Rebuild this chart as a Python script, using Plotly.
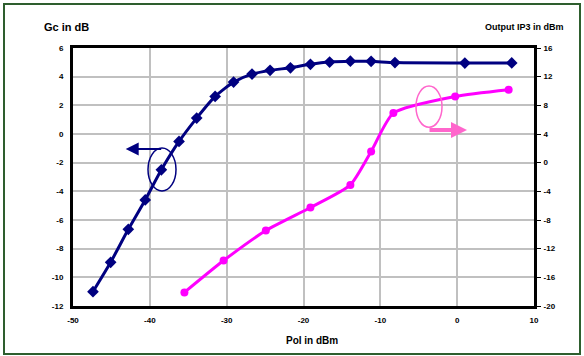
import plotly.graph_objects as go

# Gc (left axis)
gc_pol = [-47.4, -45.1, -42.8, -40.6, -38.5, -36.2, -33.9, -31.5, -29.1, -26.7,
          -24.35, -21.7, -19.1, -16.6, -13.9, -11.2, -8.1, 1.0, 7.1]
gc_db = [-11.0, -8.95, -6.65, -4.6, -2.5, -0.52, 1.11, 2.62, 3.62, 4.18,
         4.44, 4.62, 4.86, 5.02, 5.08, 5.07, 4.98, 4.95, 4.96]

# Output IP3 (right axis)
ip3_pol = [-35.5, -30.4, -24.9, -19.1, -13.9, -11.2, -8.3, -0.26, 6.7]
ip3_dbm = [-18.1, -13.66, -9.47, -6.26, -3.1, 1.56, 6.92, 9.24, 10.18]

x_ticks = [-50, -40, -30, -20, -10, 0, 10]
y_ticks = [-12, -10, -8, -6, -4, -2, 0, 2, 4, 6]
y2_ticks = [-20, -16, -12, -8, -4, 0, 4, 8, 12, 16]

FONT = "Liberation Sans, Arial, sans-serif"
NAVY = "#000080"
MAG = "#FF00FF"
PINK = "#FF66CC"

fig = go.Figure()
fig.add_trace(go.Scatter(x=gc_pol, y=gc_db, mode="lines+markers",
                         line=dict(color=NAVY, width=3, shape="spline", smoothing=0.6),
                         marker=dict(symbol="diamond", size=9, color=NAVY),
                         yaxis="y", showlegend=False))
fig.add_trace(go.Scatter(x=ip3_pol, y=ip3_dbm, mode="lines+markers",
                         line=dict(color=MAG, width=3, shape="spline", smoothing=0.6),
                         marker=dict(symbol="circle", size=8, color=MAG),
                         yaxis="y2", showlegend=False))

tickfont = dict(family=FONT, size=8, color="black", weight="bold")

fig.update_layout(
    width=584, height=356,
    margin=dict(l=73, r=50, t=48, b=50),
    paper_bgcolor="white", plot_bgcolor="white",
    xaxis=dict(range=[-50, 10], tickvals=x_ticks, ticktext=[str(v) for v in x_ticks],
               showgrid=True, gridcolor="#C0C0C0", gridwidth=2,
               showline=True, linecolor="black", linewidth=3, mirror=True,
               ticks="", tickfont=tickfont, ticklabelstandoff=4, zeroline=False),
    yaxis=dict(range=[-12, 6], tickvals=y_ticks, ticktext=[str(v) for v in y_ticks],
               showgrid=True, gridcolor="#C0C0C0", gridwidth=2,
               showline=True, linecolor="black", linewidth=3, mirror=True,
               ticks="", tickfont=tickfont, ticklabelstandoff=5, zeroline=False),
    yaxis2=dict(range=[-20, 16], tickvals=y2_ticks, ticktext=[str(v) for v in y2_ticks],
                overlaying="y", side="right", showgrid=False,
                showline=True, linecolor="black", linewidth=3,
                ticks="outside", ticklen=4, tickwidth=1, tickcolor="black",
                tickfont=tickfont, ticklabelstandoff=1, zeroline=False),
)

def px(xp):
    return (xp - 73) / 461.0

def py(yp):
    return (306 - yp) / 258.0

annots = [
    dict(text="<b>Gc in dB</b>", x=px(66.5), y=py(27), font=dict(family=FONT, size=11, color="black")),
    dict(text="<b>Output IP3 in dBm</b>", x=px(524.5), y=py(27), font=dict(family=FONT, size=9, color="black")),
    dict(text="<b>Pol in dBm</b>", x=px(312), y=py(340), font=dict(family=FONT, size=10, color="black")),
]
for a in annots:
    fig.add_annotation(xref="paper", yref="paper", showarrow=False,
                       xanchor="center", yanchor="middle", **a)

# arrows
fig.add_annotation(xref="paper", yref="paper", x=px(125.7), y=py(149), ax=37, ay=0,
                   text="", showarrow=True, arrowhead=2, arrowsize=1.3, arrowwidth=2,
                   arrowcolor=NAVY, standoff=0)
fig.add_annotation(xref="paper", yref="paper", x=px(467), y=py(130), ax=-39, ay=0,
                   text="", showarrow=True, arrowhead=2, arrowsize=0.8, arrowwidth=4,
                   arrowcolor=PINK, standoff=0)

# ellipses
fig.add_shape(type="circle", xref="paper", yref="paper",
              x0=px(148), x1=px(176), y0=py(191), y1=py(148),
              line=dict(color=NAVY, width=1.5))
fig.add_shape(type="circle", xref="paper", yref="paper",
              x0=px(416), x1=px(442), y0=py(127.3), y1=py(86),
              line=dict(color=PINK, width=1.5))

# outer border
fig.add_shape(type="rect", xref="paper", yref="paper",
              x0=px(4), x1=px(580), y0=py(354), y1=py(4),
              line=dict(color="#2E5E2E", width=2), layer="below")

fig.write_html("out.html",
               config={"displayModeBar": False},
               post_script="document.body.style.margin='0';document.body.style.padding='0';"
                           "document.body.style.overflow='hidden';")
